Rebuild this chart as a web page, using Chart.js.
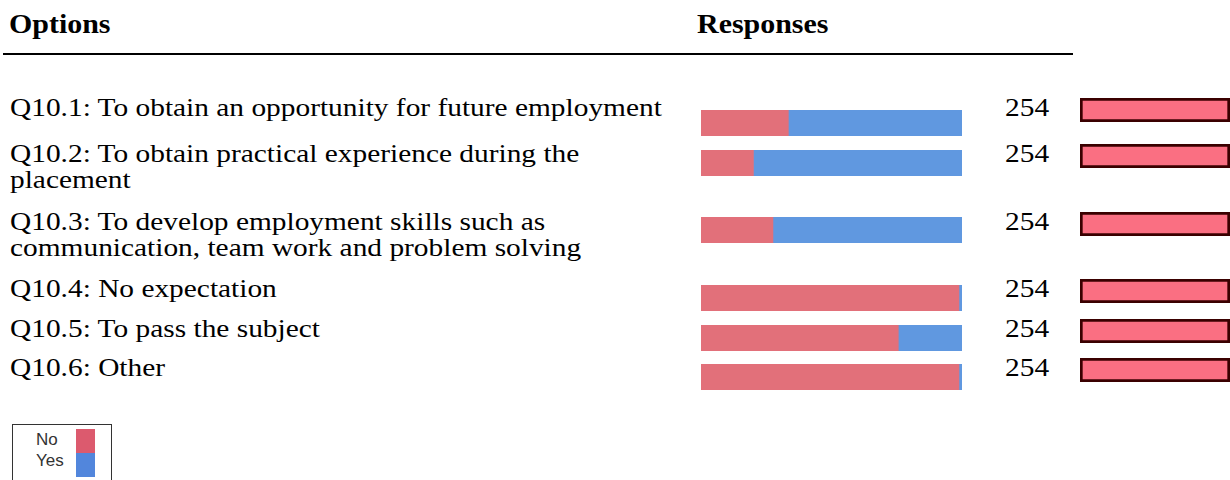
<!DOCTYPE html>
<html>
<head>
<meta charset="utf-8">
<title>Q10 responses</title>
<script src="https://cdn.jsdelivr.net/npm/chart.js@4/dist/chart.umd.min.js"></script>
<style>
    body {
        margin: 0;
        width: 1230px;
        height: 480px;
        overflow: hidden;
        position: relative;
        background: #fff;
        font-family: "Liberation Serif", "Times New Roman", serif;
        color: #000;
    }
    /* the source table is a little wider than it is tall */
    .head, .label, .count {
        position: absolute;
        white-space: nowrap;
        transform: scaleX(1.13);
        transform-origin: 0 0;
    }
    .head {
        top: 10px;
        font-size: 26.5px;
        line-height: 29px;
        font-weight: bold;
    }
    .rule {
        position: absolute;
        left: 3px;
        top: 53px;
        width: 1070px;
        height: 2px;
        background: #000;
    }
    .label, .count {
        font-size: 26px;
        line-height: 25px;
        height: 25px;
    }
    .label { left: 10px; }
    .count { left: 1005px; }
    canvas { position: absolute; }
    .legend {
        position: absolute;
        left: 12px;
        top: 424px;
        width: 98px;
        height: 80px;
        border: 1px solid #333;
        font-family: "Liberation Sans", Arial, sans-serif;
        font-size: 17px;
        color: #333;
    }
    .legend .name {
        position: absolute;
        left: 23px;
        line-height: 20px;
    }
    .legend .swatch {
        position: absolute;
        left: 63px;
        width: 19px;
        height: 24px;
    }
</style>
</head>
<body>

<div class="head" style="left: 9px;">Options</div>
<div class="head" style="left: 697px;">Responses</div>
<div class="rule"></div>

<div class="legend" id="legend"></div>

<script>
// Question labels (wrapped the same way as the original table)
const categories = [
    ["Q10.1: To obtain an opportunity for future employment"],
    ["Q10.2: To obtain practical experience during the", "placement"],
    ["Q10.3: To develop employment skills such as", "communication, team work and problem solving"],
    ["Q10.4: No expectation"],
    ["Q10.5: To pass the subject"],
    ["Q10.6: Other"],
];
const seriesNames = ["No", "Yes"];
const noCounts = [85, 51, 70, 251, 192, 251];
const yesCounts = [169, 203, 184, 3, 62, 3];
const responses = [254, 254, 254, 254, 254, 254];
const totalRespondents = 254;

// Layout of the table rows (top of each row, in px)
const rowTops = [98, 144, 212, 279, 319, 358];
const stackShift = [12, 6, 5, 6, 6, 6];
const lineStep = 26;

const barColors = ["#e2707a", "#6098e0"];
const legendColors = ["#dc5a6e", "#5286dc"];

function makeCanvas(left, top, width, height) {
    const canvas = document.createElement("canvas");
    canvas.width = width;
    canvas.height = height;
    canvas.style.left = left + "px";
    canvas.style.top = top + "px";
    canvas.style.width = width + "px";
    canvas.style.height = height + "px";
    document.body.appendChild(canvas);
    return canvas;
}

function addText(cls, top, text) {
    const el = document.createElement("div");
    el.className = cls;
    el.style.top = top + "px";
    el.textContent = text;
    document.body.appendChild(el);
}

const baseOptions = (max) => ({
    indexAxis: "y",
    responsive: false,
    animation: false,
    events: [],
    layout: { padding: 0 },
    plugins: { legend: { display: false }, tooltip: { enabled: false } },
    scales: {
        x: { stacked: true, display: false, min: 0, max: max },
        y: { stacked: true, display: false },
    },
    datasets: { bar: { barPercentage: 1, categoryPercentage: 1 } },
});

categories.forEach((lines, i) => {
    const top = rowTops[i];

    lines.forEach((line, k) => addText("label", top - 3 + k * lineStep, line));
    addText("count", top - 3, responses[i]);

    // No / Yes split bar
    new Chart(makeCanvas(701, top + stackShift[i], 261, 26), {
        type: "bar",
        data: {
            labels: [lines.join(" ")],
            datasets: [
                { label: seriesNames[0], data: [noCounts[i]], backgroundColor: barColors[0] },
                { label: seriesNames[1], data: [yesCounts[i]], backgroundColor: barColors[1] },
            ],
        },
        options: baseOptions(responses[i]),
    });

    // response count bar
    new Chart(makeCanvas(1080, top, 150, 24), {
        type: "bar",
        data: {
            labels: [lines.join(" ")],
            datasets: [
                {
                    label: "Responses",
                    data: [responses[i]],
                    backgroundColor: "#fa6f82",
                    borderColor: "#3a0000",
                    borderWidth: 3,
                    borderSkipped: false,
                },
            ],
        },
        options: baseOptions(totalRespondents),
    });
});

// Legend
const legend = document.getElementById("legend");
seriesNames.forEach((name, i) => {
    const text = document.createElement("div");
    text.className = "name";
    text.style.top = 5 + i * 21 + "px";
    text.textContent = name;
    legend.appendChild(text);

    const swatch = document.createElement("div");
    swatch.className = "swatch";
    swatch.style.top = 4 + i * 24 + "px";
    swatch.style.background = legendColors[i];
    legend.appendChild(swatch);
});
</script>
</body>
</html>
